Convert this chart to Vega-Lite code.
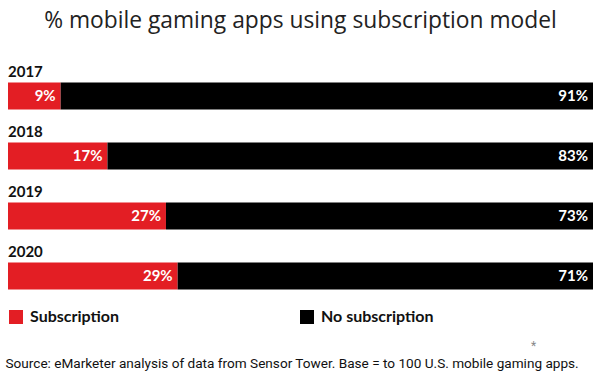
{
  "$schema": "https://vega.github.io/schema/vega-lite/v6.json",
  "width": 585,
  "height": 240,
  "autosize": {"type": "none"},
  "padding": {"left": 8, "top": 66, "right": 7, "bottom": 69},
  "background": "white",
  "title": {
    "text": "% mobile gaming apps using subscription model",
    "font": "Open Sans",
    "fontSize": 22.8,
    "fontWeight": "normal",
    "color": "#222222",
    "anchor": "middle",
    "offset": 32
  },
  "data": {
    "values": [
      {"year": "2017", "category": "Subscription", "share": 0.09},
      {"year": "2017", "category": "No subscription", "share": 0.91},
      {"year": "2018", "category": "Subscription", "share": 0.17},
      {"year": "2018", "category": "No subscription", "share": 0.83},
      {"year": "2019", "category": "Subscription", "share": 0.27},
      {"year": "2019", "category": "No subscription", "share": 0.73},
      {"year": "2020", "category": "Subscription", "share": 0.29},
      {"year": "2020", "category": "No subscription", "share": 0.71}
    ]
  },
  "transform": [
    {"stack": "share", "groupby": ["year"], "sort": [{"field": "category", "order": "descending"}], "as": ["x0", "x1"]}
  ],
  "encoding": {
    "y": {
      "field": "year",
      "type": "nominal",
      "scale": {"paddingInner": 0, "paddingOuter": 0},
      "axis": {
        "orient": "right",
        "labels": false,
        "ticks": false,
        "domain": false,
        "grid": false,
        "title": "*",
        "titleAngle": 0,
        "titleX": -60,
        "titleY": 279,
        "titleAlign": "center",
        "titleBaseline": "middle",
        "titleFont": "Roboto",
        "titleFontSize": 12,
        "titleFontWeight": "normal",
        "titleColor": "#888888"
      }
    }
  },
  "layer": [
    {
      "mark": {"type": "bar", "height": 27},
      "encoding": {
        "x": {
          "field": "x0",
          "type": "quantitative",
          "scale": {"domain": [0, 1], "nice": false},
          "axis": {
            "labels": false,
            "ticks": false,
            "domain": false,
            "grid": false,
            "title": "Source: eMarketer analysis of data from Sensor Tower. Base = to 100 U.S. mobile gaming apps.",
            "titleAnchor": "start",
            "titleAlign": "left",
            "titleBaseline": "middle",
            "titleX": -3,
            "titleY": 57,
            "titleFont": "Roboto",
            "titleFontSize": 13.6,
            "titleFontWeight": "normal",
            "titleColor": "#111111"
          }
        },
        "x2": {"field": "x1"},
        "color": {
          "field": "category",
          "type": "nominal",
          "scale": {"domain": ["Subscription", "No subscription"], "range": ["#e31e24", "#000000"]},
          "legend": {
            "orient": "none",
            "legendX": 0,
            "legendY": 243,
            "direction": "horizontal",
            "title": null,
            "symbolType": "square",
            "symbolSize": 196,
            "symbolStrokeWidth": 0,
            "labelFont": "Lato",
            "labelFontSize": 16,
            "labelFontWeight": "bold",
            "labelColor": "#111111",
            "labelOffset": 6,
            "columnPadding": 180,
            "labelLimit": 300
          }
        }
      }
    },
    {
      "mark": {"type": "text", "align": "right", "baseline": "middle", "dx": -5, "color": "white", "font": "Lato", "fontSize": 15, "fontWeight": "bold"},
      "encoding": {
        "x": {"field": "x1", "type": "quantitative"},
        "text": {"field": "share", "type": "quantitative", "format": ".0%"}
      }
    },
    {
      "transform": [{"filter": "datum.category === 'Subscription'"}],
      "mark": {"type": "text", "align": "left", "baseline": "middle", "dy": -24, "color": "#111111", "font": "Lato", "fontSize": 15, "fontWeight": "bold"},
      "encoding": {
        "x": {"datum": 0, "type": "quantitative"},
        "text": {"field": "year"}
      }
    }
  ],
  "config": {"view": {"stroke": null}}
}
